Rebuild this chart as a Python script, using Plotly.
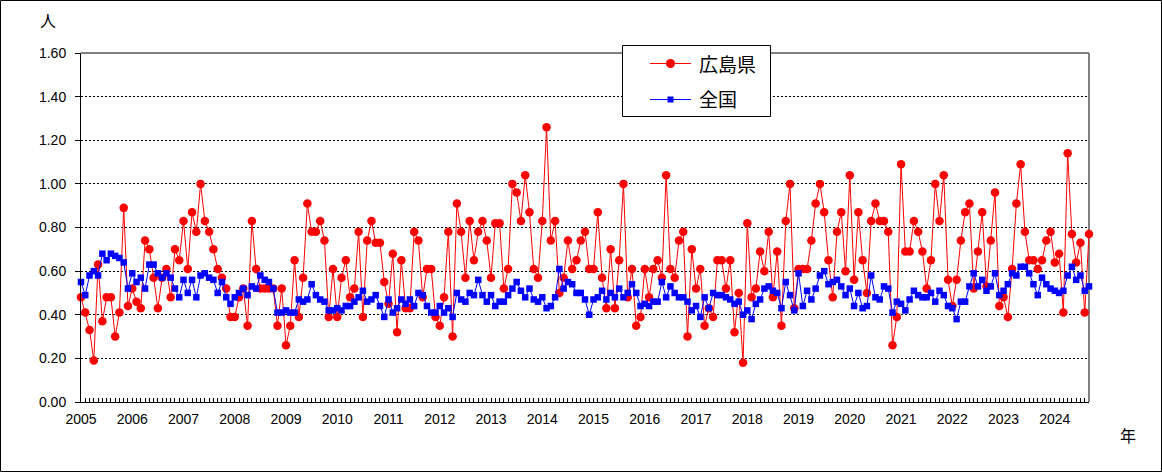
import plotly.graph_objects as go

# Monthly data, Jan 2005 - Sep 2024
years = [str(y) for y in range(2005, 2025)]

hiroshima = [
    0.48, 0.41, 0.33, 0.19, 0.63, 0.37, 0.48, 0.48, 0.30, 0.41, 0.89, 0.44,  # 2005
    0.52, 0.46, 0.43, 0.74, 0.70, 0.57, 0.43, 0.57, 0.61, 0.48, 0.70, 0.65,  # 2006
    0.83, 0.61, 0.87, 0.78, 1.00, 0.83, 0.78, 0.70, 0.61, 0.57, 0.52, 0.39,  # 2007
    0.39, 0.48, 0.52, 0.35, 0.83, 0.61, 0.52, 0.52, 0.52, 0.52, 0.35, 0.52,  # 2008
    0.26, 0.35, 0.65, 0.39, 0.57, 0.91, 0.78, 0.78, 0.83, 0.74, 0.39, 0.61,  # 2009
    0.39, 0.57, 0.65, 0.48, 0.52, 0.78, 0.39, 0.74, 0.83, 0.73, 0.73, 0.55,  # 2010
    0.45, 0.68, 0.32, 0.65, 0.43, 0.43, 0.78, 0.74, 0.48, 0.61, 0.61, 0.39,  # 2011
    0.35, 0.48, 0.78, 0.30, 0.91, 0.78, 0.57, 0.83, 0.65, 0.78, 0.83, 0.74,  # 2012
    0.57, 0.82, 0.82, 0.52, 0.61, 1.00, 0.96, 0.83, 1.04, 0.87, 0.61, 0.57,  # 2013
    0.83, 1.26, 0.74, 0.83, 0.50, 0.57, 0.74, 0.61, 0.65, 0.74, 0.78, 0.61,  # 2014
    0.61, 0.87, 0.57, 0.43, 0.70, 0.43, 0.65, 1.00, 0.48, 0.61, 0.35, 0.39,  # 2015
    0.61, 0.48, 0.61, 0.65, 0.57, 1.04, 0.61, 0.57, 0.74, 0.78, 0.30, 0.70,  # 2016
    0.52, 0.61, 0.35, 0.43, 0.39, 0.65, 0.65, 0.52, 0.65, 0.32, 0.50, 0.18,  # 2017
    0.82, 0.48, 0.52, 0.69, 0.60, 0.78, 0.48, 0.69, 0.35, 0.83, 1.00, 0.43,  # 2018
    0.61, 0.61, 0.61, 0.74, 0.91, 1.00, 0.87, 0.65, 0.48, 0.78, 0.87, 0.60,  # 2019
    1.04, 0.56, 0.87, 0.65, 0.50, 0.83, 0.91, 0.83, 0.83, 0.78, 0.26, 0.39,  # 2020
    1.09, 0.69, 0.69, 0.83, 0.78, 0.69, 0.52, 0.65, 1.00, 0.83, 1.04, 0.56,  # 2021
    0.44, 0.56, 0.74, 0.87, 0.91, 0.52, 0.69, 0.87, 0.53, 0.74, 0.96, 0.44,  # 2022
    0.48, 0.39, 0.61, 0.91, 1.09, 0.78, 0.65, 0.65, 0.61, 0.65, 0.74, 0.78,  # 2023
    0.64, 0.68, 0.41, 1.14, 0.77, 0.64, 0.73, 0.41, 0.77,                    # 2024
]

zenkoku = [
    0.55, 0.49, 0.58, 0.60, 0.58, 0.68, 0.65, 0.68, 0.67, 0.66, 0.64, 0.52,  # 2005
    0.59, 0.55, 0.57, 0.52, 0.63, 0.63, 0.59, 0.57, 0.59, 0.57, 0.52, 0.48,  # 2006
    0.56, 0.50, 0.56, 0.48, 0.58, 0.59, 0.57, 0.56, 0.50, 0.55, 0.48, 0.45,  # 2007
    0.48, 0.50, 0.52, 0.49, 0.53, 0.52, 0.58, 0.56, 0.55, 0.52, 0.41, 0.41,  # 2008
    0.42, 0.41, 0.41, 0.47, 0.46, 0.47, 0.54, 0.49, 0.47, 0.46, 0.42, 0.42,  # 2009
    0.43, 0.42, 0.44, 0.44, 0.46, 0.48, 0.51, 0.46, 0.47, 0.49, 0.44, 0.39,  # 2010
    0.47, 0.41, 0.43, 0.47, 0.45, 0.47, 0.44, 0.50, 0.49, 0.44, 0.41, 0.41,  # 2011
    0.44, 0.41, 0.43, 0.39, 0.50, 0.47, 0.46, 0.50, 0.49, 0.56, 0.49, 0.46,  # 2012
    0.49, 0.44, 0.46, 0.46, 0.49, 0.52, 0.55, 0.51, 0.48, 0.52, 0.47, 0.46,  # 2013
    0.48, 0.43, 0.44, 0.48, 0.61, 0.52, 0.55, 0.54, 0.50, 0.50, 0.47, 0.40,  # 2014
    0.47, 0.48, 0.51, 0.47, 0.50, 0.48, 0.52, 0.48, 0.50, 0.54, 0.50, 0.44,  # 2015
    0.45, 0.44, 0.46, 0.46, 0.55, 0.48, 0.53, 0.50, 0.48, 0.48, 0.46, 0.42,  # 2016
    0.44, 0.39, 0.48, 0.43, 0.50, 0.49, 0.49, 0.48, 0.47, 0.45, 0.46, 0.40,  # 2017
    0.42, 0.38, 0.45, 0.47, 0.52, 0.53, 0.51, 0.50, 0.43, 0.55, 0.49, 0.42,  # 2018
    0.59, 0.44, 0.51, 0.47, 0.52, 0.58, 0.60, 0.54, 0.55, 0.56, 0.53, 0.49,  # 2019
    0.52, 0.44, 0.50, 0.43, 0.44, 0.58, 0.48, 0.47, 0.53, 0.52, 0.41, 0.46,  # 2020
    0.45, 0.42, 0.47, 0.51, 0.49, 0.48, 0.48, 0.50, 0.46, 0.51, 0.49, 0.44,  # 2021
    0.43, 0.38, 0.46, 0.46, 0.53, 0.59, 0.53, 0.56, 0.51, 0.53, 0.59, 0.49,  # 2022
    0.51, 0.54, 0.59, 0.58, 0.62, 0.62, 0.59, 0.54, 0.49, 0.57, 0.54, 0.52,  # 2023
    0.51, 0.50, 0.51, 0.58, 0.62, 0.56, 0.58, 0.51, 0.53,                    # 2024
]

series_names = ["広島県", "全国"]
y_ticks = [0.0, 0.2, 0.4, 0.6, 0.8, 1.0, 1.2, 1.4, 1.6]

months = list(range(len(hiroshima)))
year_pos = [12 * i for i in range(len(years))]

W, H = 1162, 472
ML, MR, MT, MB = 81, 73, 53, 70
PW, PH = W - ML - MR, H - MT - MB


def px(x):
    return (x - ML) / PW


def py(y):
    return 1 - (y - MT) / PH


num_font = "Liberation Sans, Arial, sans-serif"
jp_font = "Noto Sans CJK JP, sans-serif"
RED, BLUE = "#FF0000", "#0000FF"

fig = go.Figure()
fig.add_trace(go.Scatter(
    x=months, y=hiroshima, name=series_names[0], mode="lines+markers",
    line=dict(color=RED, width=1),
    marker=dict(symbol="circle", size=8.5, color=RED),
    cliponaxis=False, showlegend=False,
))
fig.add_trace(go.Scatter(
    x=months, y=zenkoku, name=series_names[1], mode="lines+markers",
    line=dict(color=BLUE, width=1),
    marker=dict(symbol="square", size=6.5, color=BLUE),
    cliponaxis=False, showlegend=False,
))

fig.update_layout(
    width=W, height=H,
    margin=dict(l=ML, r=MR, t=MT, b=MB, pad=0),
    paper_bgcolor="white", plot_bgcolor="white",
    showlegend=False,
    xaxis=dict(
        range=[0, len(hiroshima) - 1],
        tickmode="array", tickvals=year_pos, ticktext=years,
        ticks="inside", ticklen=4, tickcolor="black",
        minor=dict(tickmode="linear", tick0=0, dtick=1, ticks="inside",
                   ticklen=4, tickcolor="black", showgrid=False),
        showline=True, linecolor="black", linewidth=1,
        showgrid=False, zeroline=False,
        tickfont=dict(family=num_font, size=14, color="black"),
        ticklabelstandoff=4,
    ),
    yaxis=dict(
        range=[0, 1.6], tickmode="array", tickvals=y_ticks,
        ticktext=[f"{v:.2f}" for v in y_ticks],
        ticks="outside", ticklen=5, tickcolor="black",
        showline=True, linecolor="black", linewidth=1,
        showgrid=True, gridcolor="black", gridwidth=1, griddash="2px,2px",
        zeroline=False,
        tickfont=dict(family=num_font, size=14, color="black"),
        ticklabelstandoff=6,
    ),
)

# Gray plot-area border (top and right)
fig.add_shape(type="line", xref="paper", yref="paper", x0=0, x1=1, y0=1, y1=1,
              line=dict(color="#808080", width=2), layer="above")
fig.add_shape(type="line", xref="paper", yref="paper", x0=1, x1=1, y0=0, y1=1,
              line=dict(color="#808080", width=2), layer="below")
# Outer chart border
fig.add_shape(type="rect", xref="paper", yref="paper",
              x0=px(0.5), x1=px(W - 0.5), y0=py(H - 0.5), y1=py(0.5),
              line=dict(color="black", width=1), layer="above")

# Legend box (drawn to match the original layout)
fig.add_shape(type="rect", xref="paper", yref="paper",
              x0=px(622.5), x1=px(770.5), y0=py(116.5), y1=py(45.5),
              fillcolor="white", line=dict(color="black", width=1), layer="above")
legend_rows = [(63, RED, "circle"), (99, BLUE, "square")]
for (ly, col, sym), name in zip(legend_rows, series_names):
    fig.add_shape(type="line", xref="paper", yref="paper",
                  x0=px(650), x1=px(691), y0=py(ly + 0.5), y1=py(ly + 0.5),
                  line=dict(color=col, width=1), layer="above")
    if sym == "circle":
        fig.add_shape(type="circle", xref="paper", yref="paper",
                      x0=px(666), x1=px(675), y0=py(ly + 5), y1=py(ly - 4),
                      fillcolor=col, line=dict(color=col, width=0), layer="above")
    else:
        fig.add_shape(type="rect", xref="paper", yref="paper",
                      x0=px(667.5), x1=px(673.5), y0=py(ly + 3.5), y1=py(ly - 2.5),
                      fillcolor=col, line=dict(color=col, width=0), layer="above")
    fig.add_annotation(text=name, xref="paper", yref="paper",
                       x=px(697), y=py(ly), xanchor="left", yanchor="middle",
                       showarrow=False,
                       font=dict(family=jp_font, size=19, color="black"))

# Axis unit labels
fig.add_annotation(text="人", xref="paper", yref="paper",
                   x=px(48), y=py(20), xanchor="center", yanchor="middle",
                   showarrow=False, font=dict(family=jp_font, size=16, color="black"))
fig.add_annotation(text="年", xref="paper", yref="paper",
                   x=px(1128), y=py(435), xanchor="center", yanchor="middle",
                   showarrow=False, font=dict(family=jp_font, size=16, color="black"))

fig.write_html(
    "out.html",
    config={"displayModeBar": False},
    post_script="document.body.style.margin='0px';document.body.style.overflow='hidden';",
)
